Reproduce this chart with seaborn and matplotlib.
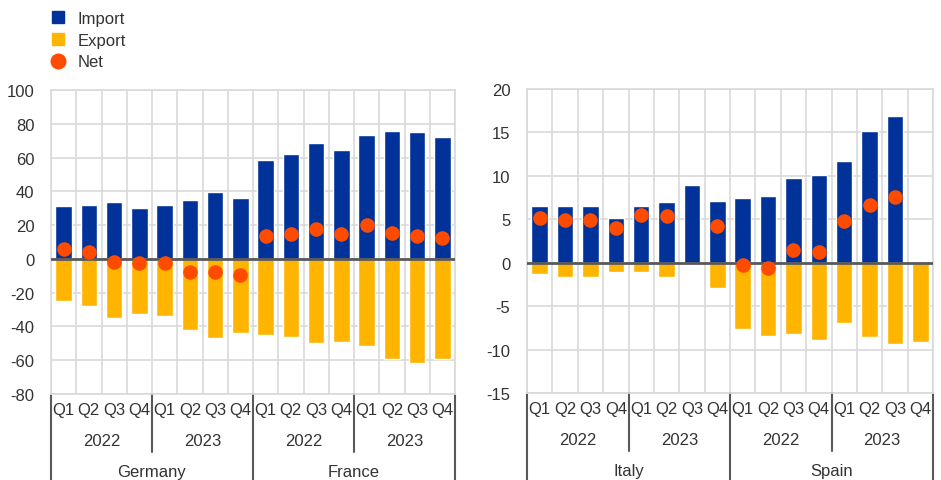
import numpy as np
import pandas as pd
import seaborn as sns
import matplotlib.pyplot as plt
from matplotlib.lines import Line2D
from matplotlib.transforms import blended_transform_factory

# Data
quarters = ["Q1", "Q2", "Q3", "Q4"] * 4
years = ["2022"] * 4 + ["2023"] * 4 + ["2022"] * 4 + ["2023"] * 4

left_countries = ["Germany", "France"]
left_import = [31.2, 32.0, 33.5, 30.4, 32.0, 35.1, 39.5, 35.9,
               58.4, 62.4, 68.5, 64.7, 73.2, 76.0, 75.4, 72.2]
left_export = [-24.9, -28.0, -34.9, -32.6, -33.9, -42.4, -47.0, -44.0,
               -44.8, -46.2, -50.0, -49.3, -51.5, -59.0, -61.4, -59.0]
left_net = [5.9, 4.0, -2.0, -2.4, -2.5, -7.9, -7.9, -9.3,
            13.3, 14.9, 17.6, 14.7, 19.8, 15.5, 13.3, 12.5]

right_countries = ["Italy", "Spain"]
right_import = [6.5, 6.5, 6.5, 5.2, 6.5, 7.0, 8.9, 7.1,
                7.5, 7.7, 9.8, 10.1, 11.7, 15.2, 16.9, np.nan]
right_export = [-1.3, -1.7, -1.7, -1.1, -1.1, -1.6, np.nan, -2.9,
                -7.6, -8.4, -8.2, -8.9, -6.9, -8.5, -9.4, -9.1]
right_net = [5.2, 4.9, 4.9, 4.0, 5.5, 5.4, np.nan, 4.2,
             -0.3, -0.6, 1.5, 1.2, 4.8, 6.7, 7.6, np.nan]

BLUE = "#003299"
YELLOW = "#FFB400"
ORANGE = "#FF4B00"
GRID = "#d9d9d9"
TEXT = "#333333"
LINE = "#595959"

sns.set_style("white")
plt.rcParams["font.family"] = ["Liberation Sans", "DejaVu Sans"]
plt.rcParams["font.size"] = 12
plt.rcParams["axes.unicode_minus"] = False


def make_frame(countries, imp, exp, net):
    country = [countries[0]] * 8 + [countries[1]] * 8
    key = [f"{c} {y} {q}" for c, y, q in zip(country, years, quarters)]
    return pd.DataFrame({"key": key, "country": country, "year": years,
                         "quarter": quarters, "import": imp,
                         "export": exp, "net": net})


def draw_panel(ax, df, yticks):
    order = list(df["key"])
    sns.barplot(data=df, x="key", y="import", order=order, color=BLUE,
                width=0.65, saturation=1, ax=ax, zorder=3)
    sns.barplot(data=df, x="key", y="export", order=order, color=YELLOW,
                width=0.65, saturation=1, ax=ax, zorder=3)
    sns.stripplot(data=df, x="key", y="net", order=order, color=ORANGE,
                  jitter=False, size=10.5, linewidth=0, ax=ax, zorder=5)

    n = len(order)
    ax.set_xlim(-0.5, n - 0.5)
    ax.set_ylim(yticks[0], yticks[-1])
    ax.set_yticks(yticks)
    ax.set_xticks(np.arange(-0.5, n, 1.0), minor=True)
    ax.set_xticks([])
    ax.set_xlabel("")
    ax.set_ylabel("")
    ax.grid(which="minor", axis="x", color=GRID, linewidth=1.2, zorder=0)
    ax.grid(which="major", axis="y", color=GRID, linewidth=1.2, zorder=0)
    ax.set_axisbelow(True)
    ax.tick_params(axis="y", length=0, pad=12, labelcolor=TEXT)
    ax.tick_params(axis="x", which="both", length=0)
    for s in ax.spines.values():
        s.set_color(GRID)
        s.set_linewidth(1.2)
    ax.axhline(0, color=LINE, linewidth=2, zorder=4)

    # multi-level category axis
    tr = blended_transform_factory(ax.transData, ax.transAxes)
    for i, q in enumerate(df["quarter"]):
        ax.text(i, -0.05, q, transform=tr, ha="center", va="center",
                color=TEXT)
    for j in range(4):
        ax.text(j * 4 + 1.5, -0.152, df["year"].iloc[j * 4], transform=tr,
                ha="center", va="center", color=TEXT)
    for j in range(2):
        ax.text(j * 8 + 3.5, -0.255, df["country"].iloc[j * 8],
                transform=tr, ha="center", va="center", color=TEXT)
    for xb in [-0.5, 7.5, 15.5]:
        ax.plot([xb, xb], [0, -0.29], transform=tr, color=LINE,
                linewidth=1.5, clip_on=False)
    for xb in [3.5, 11.5]:
        ax.plot([xb, xb], [0, -0.19], transform=tr, color=LINE,
                linewidth=1.5, clip_on=False)


fig = plt.figure(figsize=(9.41, 4.81), dpi=100)
ax1 = fig.add_axes([51 / 941, 86 / 481, 404 / 941, 304 / 481])
ax2 = fig.add_axes([527 / 941, 87 / 481, 406 / 941, 304 / 481])

draw_panel(ax1, make_frame(left_countries, left_import, left_export, left_net),
           list(range(-80, 101, 20)))
draw_panel(ax2, make_frame(right_countries, right_import, right_export, right_net),
           list(range(-15, 21, 5)))

handles = [
    Line2D([], [], marker="s", linestyle="", color=BLUE, markersize=9),
    Line2D([], [], marker="s", linestyle="", color=YELLOW, markersize=9),
    Line2D([], [], marker="o", linestyle="", color=ORANGE, markersize=10.5),
]
fig.legend(handles, ["Import", "Export", "Net"], loc="upper left",
           bbox_to_anchor=(50 / 941, 1 - 12 / 481), frameon=False,
           handlelength=1.0, handletextpad=0.65, labelspacing=0.4,
           labelcolor=TEXT, borderaxespad=0, borderpad=0)

fig.savefig("out.png", dpi=100)
